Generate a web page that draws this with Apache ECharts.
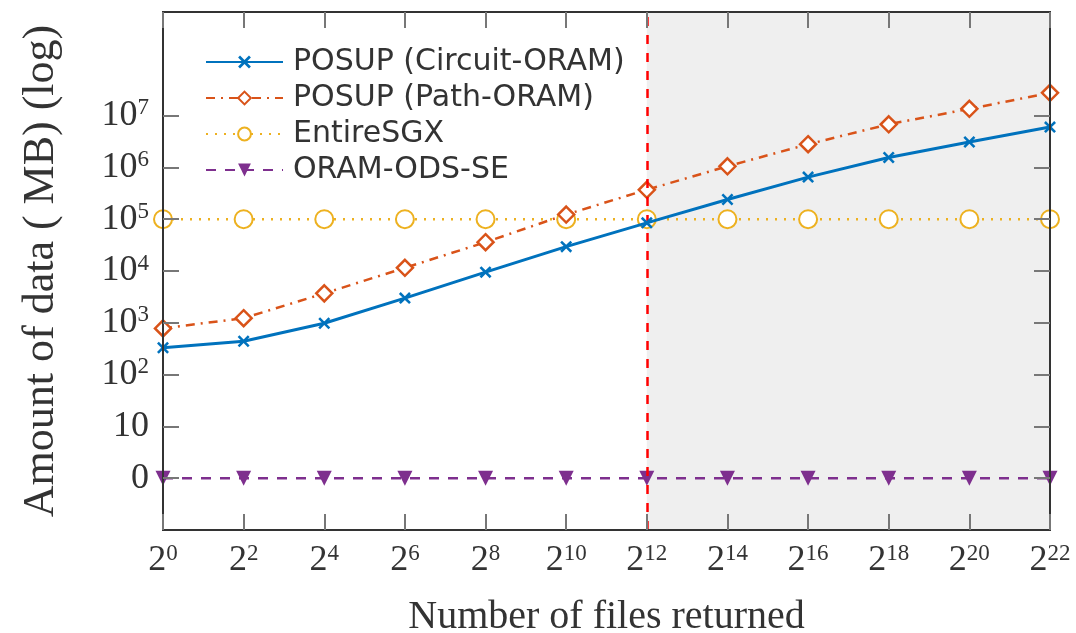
<!DOCTYPE html>
<html>
<head>
<meta charset="utf-8">
<script src="https://cdn.jsdelivr.net/npm/echarts@6/dist/echarts.min.js"></script>
<style>
  html, body { margin: 0; padding: 0; background: #fff; }
  #main { width: 1076px; height: 633px; }
</style>
</head>
<body>
<div id="main"></div>
<script>
// x: number of files returned, as powers of two
const exponents = [0, 2, 4, 6, 8, 10, 12, 14, 16, 18, 20, 22];
const categories = exponents.map(e => "2^" + e);

// amount of data in MB
const circuitOram = [330, 440, 980, 3000, 9500, 29500, 85000, 240000, 650000, 1550000, 3100000, 6000000];
const pathOram = [780, 1230, 3700, 11500, 36000, 123000, 370000, 1050000, 2800000, 6800000, 13500000, 27500000];
const entireSgx = [100000, 100000, 100000, 100000, 100000, 100000, 100000, 100000, 100000, 100000, 100000, 100000];
const oramOdsSe = [0, 0, 0, 0, 0, 0, 0, 0, 0, 0, 0, 0];

// y tick labels: 0, 10, 10^2 ... 10^7
const yTickPowers = [0, 1, 2, 3, 4, 5, 6, 7];

// where the shaded part starts
const splitAt = "2^12";

// log position on the axis (0 is drawn at the "0" tick)
const toPos = v => (v > 0 ? Math.log10(v) : 0);

const serif = "Liberation Serif";
const sans = "DejaVu Sans";

const colBlue = "#0072BD";
const colOrange = "#D95319";
const colYellow = "#EDB120";
const colPurple = "#7E2F8E";

const crossPath = "path://M0,1.5L1.5,0L5,3.5L8.5,0L10,1.5L6.5,5L10,8.5L8.5,10L5,6.5L1.5,10L0,8.5L3.5,5Z";

const tickRich = {
  b: { fontFamily: serif, fontSize: 36, color: "#333" },
  sup: { fontFamily: serif, fontSize: 23, color: "#333", verticalAlign: "top", padding: [0, 0, 15, 0] },
};

const xTick = { show: true, inside: true, interval: 0, length: 16, lineStyle: { color: "#777", width: 2 } };

const chart = echarts.init(document.getElementById("main"));

const option = {
  animation: false,
  grid: {
    left: 163,
    right: 26,
    top: 12,
    bottom: 103,
    outerBoundsMode: "none",
    containLabel: false,
    show: true,
    borderColor: "#333",
    borderWidth: 2,
  },
  legend: {
    left: 205,
    top: 47,
    padding: 0,
    orient: "vertical",
    itemWidth: 77,
    itemHeight: 16,
    itemGap: 6,
    textStyle: { fontFamily: sans, fontSize: 30, color: "#333", padding: [0, 0, 0, 5] },
    data: ["POSUP (Circuit-ORAM)", "POSUP (Path-ORAM)", "EntireSGX", "ORAM-ODS-SE"],
  },
  xAxis: [
    {
      type: "category",
      data: categories,
      boundaryGap: false,
      name: "Number of files returned",
      nameLocation: "middle",
      nameGap: 67,
      nameTextStyle: { fontFamily: serif, fontSize: 40, color: "#333" },
      axisLine: { onZero: false, lineStyle: { color: "#333", width: 2 } },
      axisTick: xTick,
      axisLabel: {
        margin: 12,
        interval: 0,
        formatter: v => "{b|2}{sup|" + v.split("^")[1] + "}",
        rich: tickRich,
      },
      splitLine: { show: false },
      z: 10,
    },
    {
      type: "category",
      data: categories,
      boundaryGap: false,
      position: "top",
      axisLine: { onZero: false, lineStyle: { color: "#333", width: 2 } },
      axisTick: xTick,
      axisLabel: { show: false },
      splitLine: { show: false },
      z: 10,
    },
  ],
  yAxis: [
    {
      type: "value",
      min: -1,
      max: 9,
      interval: 1,
      name: "Amount of data ( MB) (log)",
      nameLocation: "middle",
      nameGap: 100,
      nameTextStyle: { fontFamily: serif, fontSize: 44, color: "#333" },
      axisLine: { show: true, lineStyle: { color: "#333", width: 2 } },
      axisTick: { show: true, inside: true, length: 16, customValues: yTickPowers, lineStyle: { color: "#777", width: 2 } },
      axisLabel: {
        margin: 14,
        customValues: yTickPowers,
        formatter: v => (v === 0 ? "{b|0}" : v === 1 ? "{b|10}" : "{b|10}{sup|" + v + "}"),
        rich: tickRich,
      },
      splitLine: { show: false },
      z: 10,
    },
    {
      type: "value",
      min: -1,
      max: 9,
      interval: 1,
      position: "right",
      axisLine: { show: true, lineStyle: { color: "#333", width: 2 } },
      axisTick: { show: true, inside: true, length: 16, customValues: yTickPowers, lineStyle: { color: "#777", width: 2 } },
      axisLabel: { show: false },
      splitLine: { show: false },
      z: 10,
    },
  ],
  series: [
    {
      name: "POSUP (Circuit-ORAM)",
      type: "line",
      data: circuitOram.map(toPos),
      symbol: crossPath,
      symbolSize: 12,
      itemStyle: { color: colBlue },
      lineStyle: { color: colBlue, width: 3 },
      z: 5,
      markArea: {
        silent: true,
        itemStyle: { color: "#efefef" },
        data: [[{ xAxis: splitAt }, { xAxis: categories[categories.length - 1] }]],
      },
      markLine: {
        silent: true,
        symbol: "none",
        label: { show: false },
        lineStyle: { color: "#ff0000", type: [9, 9], width: 2.5 },
        data: [{ xAxis: splitAt }],
      },
    },
    {
      name: "POSUP (Path-ORAM)",
      type: "line",
      data: pathOram.map(toPos),
      symbol: "diamond",
      symbolSize: 16,
      itemStyle: { color: "#fff", borderColor: colOrange, borderWidth: 2.5 },
      lineStyle: { color: colOrange, width: 2.5, type: [9, 6, 2, 6] },
      z: 4,
    },
    {
      name: "EntireSGX",
      type: "line",
      data: entireSgx.map(toPos),
      symbol: "emptyCircle",
      symbolSize: 18,
      itemStyle: { color: colYellow, borderWidth: 2.5 },
      lineStyle: { color: colYellow, width: 2.5, type: [2, 7] },
      z: 3,
    },
    {
      name: "ORAM-ODS-SE",
      type: "line",
      data: oramOdsSe.map(toPos),
      symbol: "triangle",
      symbolRotate: 180,
      symbolSize: 15,
      itemStyle: { color: colPurple },
      lineStyle: { color: colPurple, width: 2.5, type: [10, 9] },
      z: 3,
    },
  ],
};

chart.setOption(option);
</script>
</body>
</html>
